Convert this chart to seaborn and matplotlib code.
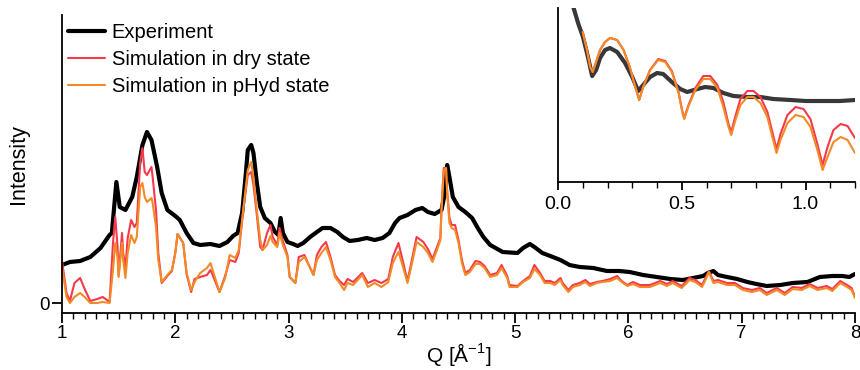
import matplotlib
matplotlib.use("Agg")
import matplotlib.pyplot as plt
from matplotlib.ticker import MultipleLocator, FixedLocator, NullLocator, FormatStrFormatter
import pandas as pd
import seaborn as sns

# ---- wide-angle scattering, Q range 1-8 1/Å ----
q_exp = [1.00, 1.07, 1.16, 1.25, 1.34, 1.42, 1.44, 1.48, 1.51, 1.56, 1.62, 1.66,
         1.71, 1.75, 1.79, 1.84, 1.88, 1.93, 2.00, 2.04, 2.10, 2.16, 2.22, 2.31,
         2.39, 2.46, 2.51, 2.55, 2.59, 2.62, 2.64, 2.67, 2.69, 2.72, 2.75, 2.79,
         2.84, 2.88, 2.91, 2.93, 2.95, 2.99, 3.04, 3.08, 3.13, 3.19, 3.25, 3.30,
         3.37, 3.43, 3.48, 3.54, 3.61, 3.69, 3.76, 3.83, 3.89, 3.94, 3.98, 4.05,
         4.12, 4.18, 4.23, 4.29, 4.35, 4.38, 4.40, 4.42, 4.45, 4.50, 4.56, 4.62,
         4.67, 4.72, 4.78, 4.89, 5.02, 5.07, 5.13, 5.17, 5.24, 5.31, 5.40, 5.48,
         5.57, 5.69, 5.81, 5.92, 6.01, 6.13, 6.25, 6.37, 6.48, 6.57, 6.66, 6.70,
         6.75, 6.79, 6.87, 6.96, 7.05, 7.13, 7.22, 7.34, 7.45, 7.58, 7.69, 7.80,
         7.89, 7.95, 8.00]
i_exp = [38, 41, 42, 46, 55, 68, 70, 121, 96, 93, 106, 126,
         158, 171, 163, 136, 110, 93, 87, 83, 70, 60, 58, 59,
         57, 61, 67, 70, 90, 126, 153, 158, 150, 120, 96, 85,
         80, 71, 68, 85, 70, 61, 59, 57, 60, 66, 71, 75,
         75, 71, 66, 62, 63, 65, 63, 65, 70, 80, 85, 88,
         93, 95, 91, 89, 93, 110, 138, 126, 106, 96, 91, 85,
         75, 66, 58, 51, 50, 55, 59, 56, 50, 47, 43, 38,
         36, 35, 32, 32, 31, 28, 26, 24, 23, 25, 27, 30,
         32, 28, 26, 24, 21, 19, 17, 18, 20, 21, 26, 27,
         27, 26, 29]

q_sim = [1.00, 1.04, 1.07, 1.11, 1.16, 1.20, 1.25, 1.31, 1.36, 1.42, 1.45, 1.47,
         1.49, 1.50, 1.53, 1.54, 1.56, 1.58, 1.61, 1.64, 1.66, 1.69, 1.71, 1.73,
         1.75, 1.79, 1.80, 1.83, 1.85, 1.88, 1.93, 1.97, 2.00, 2.02, 2.07, 2.10,
         2.14, 2.17, 2.22, 2.28, 2.31, 2.33, 2.39, 2.44, 2.48, 2.53, 2.56, 2.60,
         2.64, 2.67, 2.69, 2.72, 2.75, 2.77, 2.81, 2.84, 2.86, 2.90, 2.92, 2.95,
         2.99, 3.01, 3.06, 3.09, 3.14, 3.17, 3.22, 3.25, 3.29, 3.33, 3.37, 3.41,
         3.45, 3.49, 3.52, 3.57, 3.65, 3.70, 3.76, 3.82, 3.88, 3.92, 3.97, 4.00,
         4.05, 4.09, 4.13, 4.19, 4.23, 4.27, 4.31, 4.34, 4.35, 4.37, 4.39, 4.40,
         4.42, 4.44, 4.47, 4.50, 4.53, 4.56, 4.60, 4.65, 4.69, 4.73, 4.78, 4.84,
         4.88, 4.93, 4.95, 5.02, 5.07, 5.13, 5.17, 5.22, 5.26, 5.31, 5.35, 5.40,
         5.42, 5.47, 5.51, 5.57, 5.62, 5.66, 5.72, 5.77, 5.84, 5.90, 5.94, 5.99,
         6.04, 6.10, 6.19, 6.28, 6.34, 6.39, 6.47, 6.54, 6.59, 6.65, 6.68, 6.71,
         6.75, 6.79, 6.87, 6.94, 7.01, 7.09, 7.16, 7.22, 7.31, 7.38, 7.45, 7.53,
         7.60, 7.67, 7.75, 7.80, 7.87, 7.93, 7.97, 8.00]
i_dry = [42, 10, 2, 20, 25, 14, 2, 4, 6, 1, 60, 86,
         57, 28, 70, 50, 36, 65, 83, 76, 80, 140, 155, 131,
         128, 136, 126, 93, 50, 20, 27, 32, 50, 69, 60, 29,
         11, 24, 26, 28, 33, 28, 11, 27, 43, 41, 50, 93,
         128, 131, 118, 88, 56, 53, 70, 78, 66, 58, 75, 62,
         48, 26, 20, 46, 48, 40, 28, 48, 56, 61, 46, 28,
         22, 18, 24, 21, 30, 20, 23, 20, 24, 46, 60, 46,
         22, 44, 66, 61, 54, 44, 56, 65, 95, 135, 135, 112,
         85, 78, 78, 63, 43, 30, 33, 42, 41, 37, 28, 30,
         38, 27, 18, 17, 22, 27, 38, 30, 22, 22, 20, 25,
         20, 13, 18, 20, 23, 19, 21, 22, 24, 27, 22, 18,
         21, 18, 18, 22, 19, 22, 17, 25, 23, 18, 25, 32,
         22, 23, 20, 20, 15, 13, 15, 10, 15, 10, 16, 15,
         19, 15, 17, 14, 22, 18, 15, 6]
i_phyd = [36, 6, 0, 6, 10, 6, 0, 0, 1, 0, 33, 60,
          46, 26, 60, 43, 25, 50, 68, 60, 66, 116, 120, 106,
          101, 105, 100, 76, 43, 21, 28, 33, 50, 69, 60, 30,
          13, 21, 30, 35, 40, 33, 11, 25, 48, 45, 53, 93,
          133, 141, 126, 93, 63, 53, 58, 67, 61, 56, 70, 58,
          46, 26, 20, 41, 46, 40, 28, 43, 50, 56, 43, 26,
          20, 13, 20, 18, 28, 16, 20, 16, 21, 40, 51, 40,
          20, 40, 61, 56, 50, 41, 53, 63, 93, 133, 135, 110,
          80, 75, 73, 60, 40, 28, 31, 39, 39, 35, 26, 28,
          35, 25, 16, 16, 21, 25, 34, 28, 20, 20, 18, 23,
          18, 11, 16, 18, 21, 17, 20, 21, 22, 25, 21, 17,
          19, 16, 16, 20, 17, 20, 15, 23, 21, 16, 23, 31,
          20, 21, 18, 18, 13, 11, 13, 8, 13, 8, 14, 13,
          17, 13, 15, 12, 20, 16, 13, 5]

# ---- small-angle region, Q range 0-1.2 1/Å ----
q_exp_low = [0.05, 0.081, 0.101, 0.121, 0.138, 0.154, 0.17, 0.19, 0.21, 0.239,
             0.271, 0.30, 0.324, 0.344, 0.372, 0.40, 0.425, 0.46, 0.494, 0.522,
             0.563, 0.595, 0.628, 0.668, 0.709, 0.765, 0.818, 0.87, 0.94, 1.0,
             1.07, 1.14, 1.2]
i_exp_low = [185, 159, 145, 125, 106, 112, 124, 132, 134, 130,
             119, 105, 91, 97, 105, 109, 108, 100, 93, 90,
             93, 95, 94, 89, 86, 85, 85, 83, 82, 81,
             81, 81, 82]

q_sim_low = [0.10, 0.117, 0.13, 0.14, 0.15, 0.17, 0.19, 0.21, 0.239, 0.265,
             0.29, 0.31, 0.328, 0.344, 0.372, 0.405, 0.433, 0.46, 0.487, 0.503,
             0.51, 0.526, 0.555, 0.587, 0.615, 0.644, 0.668, 0.689, 0.70, 0.717,
             0.737, 0.765, 0.79, 0.818, 0.846, 0.866, 0.883, 0.899, 0.927, 0.96,
             0.992, 1.02, 1.048, 1.069, 1.089, 1.113, 1.142, 1.17, 1.2]
i_dry_low = [150, 132, 115, 110, 117, 132, 140, 144, 142, 132,
             115, 97, 82, 95, 112, 123, 121, 111, 90, 70,
             64, 76, 94, 106, 106, 97, 80, 58, 50, 66,
             83, 91, 91, 85, 70, 50, 33, 48, 67, 75,
             73, 63, 38, 17, 35, 52, 58, 56, 44]
i_phyd_low = [150, 132, 115, 110, 117, 132, 140, 144, 142, 132,
              115, 97, 82, 95, 112, 122, 120, 110, 89, 69,
              63, 75, 92, 103, 103, 94, 75, 55, 47, 62,
              77, 85, 85, 79, 65, 45, 29, 42, 59, 67,
              65, 55, 32, 12, 25, 40, 45, 42, 29]

labels = ["Experiment", "Simulation in dry state", "Simulation in pHyd state"]
colors = ["#000000", "#f5394a", "#f38a26"]
widths = [3.0, 1.5, 1.5]

sns.set_theme(style="ticks")
plt.rcParams["font.family"] = ["Liberation Sans", "DejaVu Sans"]
plt.rcParams["mathtext.fontset"] = "custom"
plt.rcParams["mathtext.rm"] = "Liberation Sans"
plt.rcParams["text.color"] = "black"
plt.rcParams["axes.labelcolor"] = "black"

fig = plt.figure(figsize=(8.6, 3.7), dpi=100)
ax = fig.add_axes([62 / 860, 1 - 313 / 370, 793 / 860, 298 / 370])

series = [(q_exp, i_exp), (q_sim, i_dry), (q_sim, i_phyd)]
for (qq, ii), lab, col, lw in zip(series, labels, colors, widths):
    df = pd.DataFrame({"Q": qq, "I": ii})
    sns.lineplot(data=df, x="Q", y="I", ax=ax, color=col, linewidth=lw,
                 label=lab, sort=False, estimator=None)

ax.set_xlim(1, 8)
ax.set_ylim(-10, 288)
ax.xaxis.set_major_locator(MultipleLocator(1))
ax.xaxis.set_minor_locator(MultipleLocator(0.1))
ax.yaxis.set_major_locator(FixedLocator([0]))
ax.yaxis.set_minor_locator(NullLocator())
for s in ["top", "right"]:
    ax.spines[s].set_visible(False)
for s in ["left", "bottom"]:
    ax.spines[s].set_linewidth(1.3)
    ax.spines[s].set_color("black")
ax.tick_params(which="major", direction="out", length=7, width=1.3,
               labelsize=13.5, colors="black", pad=2)
ax.tick_params(which="minor", direction="out", length=4, width=1.0,
               colors="black")
ax.set_xlabel(r"Q [Å$^{\mathregular{-1}}$]", fontsize=15, labelpad=-1)
ax.set_ylabel("Intensity", fontsize=15.5, labelpad=7)

ax.legend(loc="upper left", bbox_to_anchor=(0.007, 0.972), frameon=False,
          fontsize=14.5, handlelength=1.85, handletextpad=0.35,
          labelspacing=0.38, borderpad=0, borderaxespad=0)

# inset: low-Q region
ins = fig.add_axes([558 / 860, 1 - 182 / 370, 297 / 860, 174 / 370])
ins.patch.set_alpha(0)
low = [(q_exp_low, i_exp_low), (q_sim_low, i_dry_low), (q_sim_low, i_phyd_low)]
ins_colors = ["#383838", colors[1], colors[2]]
ins_widths = [3.0, 1.5, 1.5]
for (qq, ii), col, lw in zip(low, ins_colors, ins_widths):
    df = pd.DataFrame({"Q": qq, "I": ii})
    sns.lineplot(data=df, x="Q", y="I", ax=ins, color=col, linewidth=lw,
                 sort=False, estimator=None, legend=False)
ins.set_xlim(0, 1.2)
ins.set_ylim(0, 174)
ins.xaxis.set_major_locator(MultipleLocator(0.5))
ins.xaxis.set_minor_locator(MultipleLocator(0.1))
ins.xaxis.set_major_formatter(FormatStrFormatter("%.1f"))
ins.yaxis.set_major_locator(NullLocator())
ins.set_xlabel("")
ins.set_ylabel("")
for s in ["top", "right"]:
    ins.spines[s].set_visible(False)
for s in ["left", "bottom"]:
    ins.spines[s].set_linewidth(1.3)
    ins.spines[s].set_color("black")
ins.tick_params(which="major", direction="out", length=6, width=1.3,
                labelsize=14, colors="black", pad=4)
ins.tick_params(which="minor", direction="out", length=4, width=1.0,
                colors="black")

fig.savefig("out.png", dpi=100)
